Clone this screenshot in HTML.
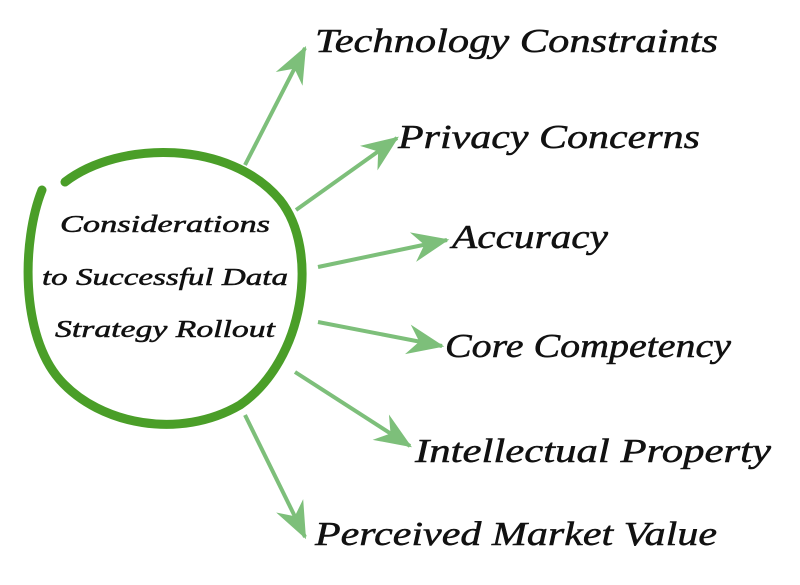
<!DOCTYPE html>
<html><head><meta charset="utf-8"><style>
html,body{margin:0;padding:0;background:#fff;}
svg{display:block;}
text{font-family:"Liberation Serif",serif;font-style:italic;fill:#111;stroke:#111;stroke-width:0.5;}
</style></head><body>
<svg width="800" height="585" viewBox="0 0 800 585" xmlns="http://www.w3.org/2000/svg">
<defs>
<marker id="ah" markerUnits="userSpaceOnUse" markerWidth="44" markerHeight="44" refX="0" refY="0" viewBox="-34 -17 38 34" orient="auto">
<path d="M2,0 L-30,-13 L-20,0 L-30,13 Z" fill="#7dbf7a"/>
</marker>
</defs>
<g stroke="#7dbf7a" stroke-width="4" fill="none" marker-end="url(#ah)">
<line x1="245" y1="165" x2="305" y2="48"/>
<line x1="296" y1="210" x2="397" y2="138"/>
<line x1="318" y1="267" x2="447" y2="240"/>
<line x1="318" y1="322" x2="442" y2="346"/>
<line x1="295" y1="372" x2="410" y2="446"/>
<line x1="245" y1="415" x2="305" y2="537"/>
</g>
<path d="M65,182 C120,140 230,140 280,200 C320,250 305,360 240,405 C180,440 100,425 60,380 C20,335 22,240 42,190" fill="none" stroke="#4a9e28" stroke-width="9" stroke-linecap="round"/>
<g font-size="24">
<text x="60" y="232" textLength="210" lengthAdjust="spacingAndGlyphs">Considerations</text>
<text x="42" y="285" textLength="246" lengthAdjust="spacingAndGlyphs">to Successful Data</text>
<text x="55" y="337" textLength="220" lengthAdjust="spacingAndGlyphs">Strategy Rollout</text>
</g>
<g font-size="34">
<text x="315" y="52" textLength="403" lengthAdjust="spacingAndGlyphs">Technology Constraints</text>
<text x="398" y="148" textLength="302" lengthAdjust="spacingAndGlyphs">Privacy  Concerns</text>
<text x="452" y="248" textLength="156" lengthAdjust="spacingAndGlyphs">Accuracy</text>
<text x="445" y="357" textLength="286" lengthAdjust="spacingAndGlyphs">Core Competency</text>
<text x="415" y="462" textLength="356" lengthAdjust="spacingAndGlyphs">Intellectual Property</text>
<text x="315" y="545" textLength="402" lengthAdjust="spacingAndGlyphs">Perceived Market Value</text>
</g>
</svg>
</body></html>
